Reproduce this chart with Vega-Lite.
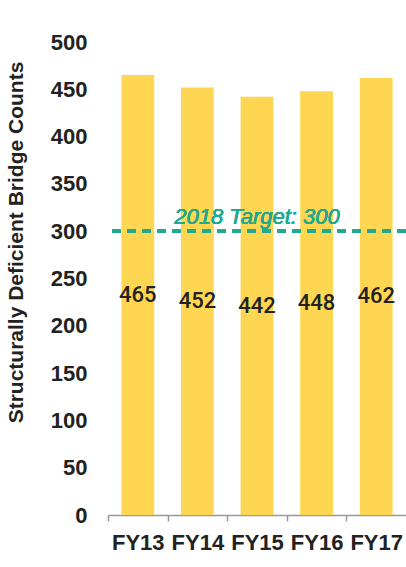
{
  "$schema": "https://vega.github.io/schema/vega-lite/v6.json",
  "autosize": "none",
  "width": 298,
  "height": 473,
  "padding": {"left": 108, "top": 42, "right": 0, "bottom": 52},
  "background": "white",
  "config": {"view": {"stroke": null}, "font": "Liberation Sans"},
  "data": {"values": [
    {"year": "FY13", "count": 465},
    {"year": "FY14", "count": 452},
    {"year": "FY15", "count": 442},
    {"year": "FY16", "count": 448},
    {"year": "FY17", "count": 462}
  ]},
  "layer": [
    {
      "layer": [
        {
          "mark": {"type": "bar", "color": "#FFD651"},
          "encoding": {
            "x": {"field": "year", "type": "nominal", "sort": null,
              "scale": {"paddingInner": 0.45, "paddingOuter": 0.225},
              "axis": {"title": null, "labelAngle": 0, "labelFontSize": 22, "labelFontWeight": "bold", "labelColor": "#222222",
                "labelPadding": 11, "domainColor": "#999999", "domainWidth": 1.5, "tickColor": "#999999", "tickWidth": 1.5, "tickSize": 6,
                "tickOffset": -29.8, "labelOffset": 29.8}},
            "y": {"field": "count", "type": "quantitative",
              "scale": {"domain": [0, 500], "nice": false},
              "axis": {"title": "Structurally Deficient Bridge Counts", "values": [0, 50, 100, 150, 200, 250, 300, 350, 400, 450, 500],
                "grid": false, "domain": false, "ticks": false, "labelPadding": 21, "labelFontSize": 22, "labelFontWeight": "bold", "labelColor": "#222222",
                "titleFontSize": 21, "titleFontWeight": "bold", "titleColor": "#222222", "titleX": -91.5, "titleY": 200, "titleAngle": -90,
                "titleAlign": "center", "titleBaseline": "middle"}}
          }
        },
        {
          "mark": {"type": "rule", "color": "#22A88F", "strokeWidth": 3.5, "strokeDash": [9, 6]},
          "encoding": {"y": {"datum": 300}}
        },
        {
          "mark": {"type": "text", "color": "#22A88F", "fontSize": 22, "fontStyle": "italic", "align": "center", "baseline": "alphabetic", "dy": -7},
          "encoding": {"x": {"datum": "FY15"}, "y": {"datum": 300}, "text": {"value": "2018 Target: 300"}}
        }
      ]
    },
    {
      "mark": {"type": "text", "fontSize": 22, "fontWeight": 500, "font": "Roboto", "color": "#222222", "baseline": "middle"},
      "encoding": {
        "x": {"field": "year", "type": "nominal", "sort": null},
        "y": {"field": "count", "type": "quantitative", "scale": {"domain": [0, 1000], "nice": false}, "axis": null},
        "text": {"field": "count", "type": "quantitative"}
      }
    }
  ],
  "resolve": {"scale": {"y": "independent"}}
}
